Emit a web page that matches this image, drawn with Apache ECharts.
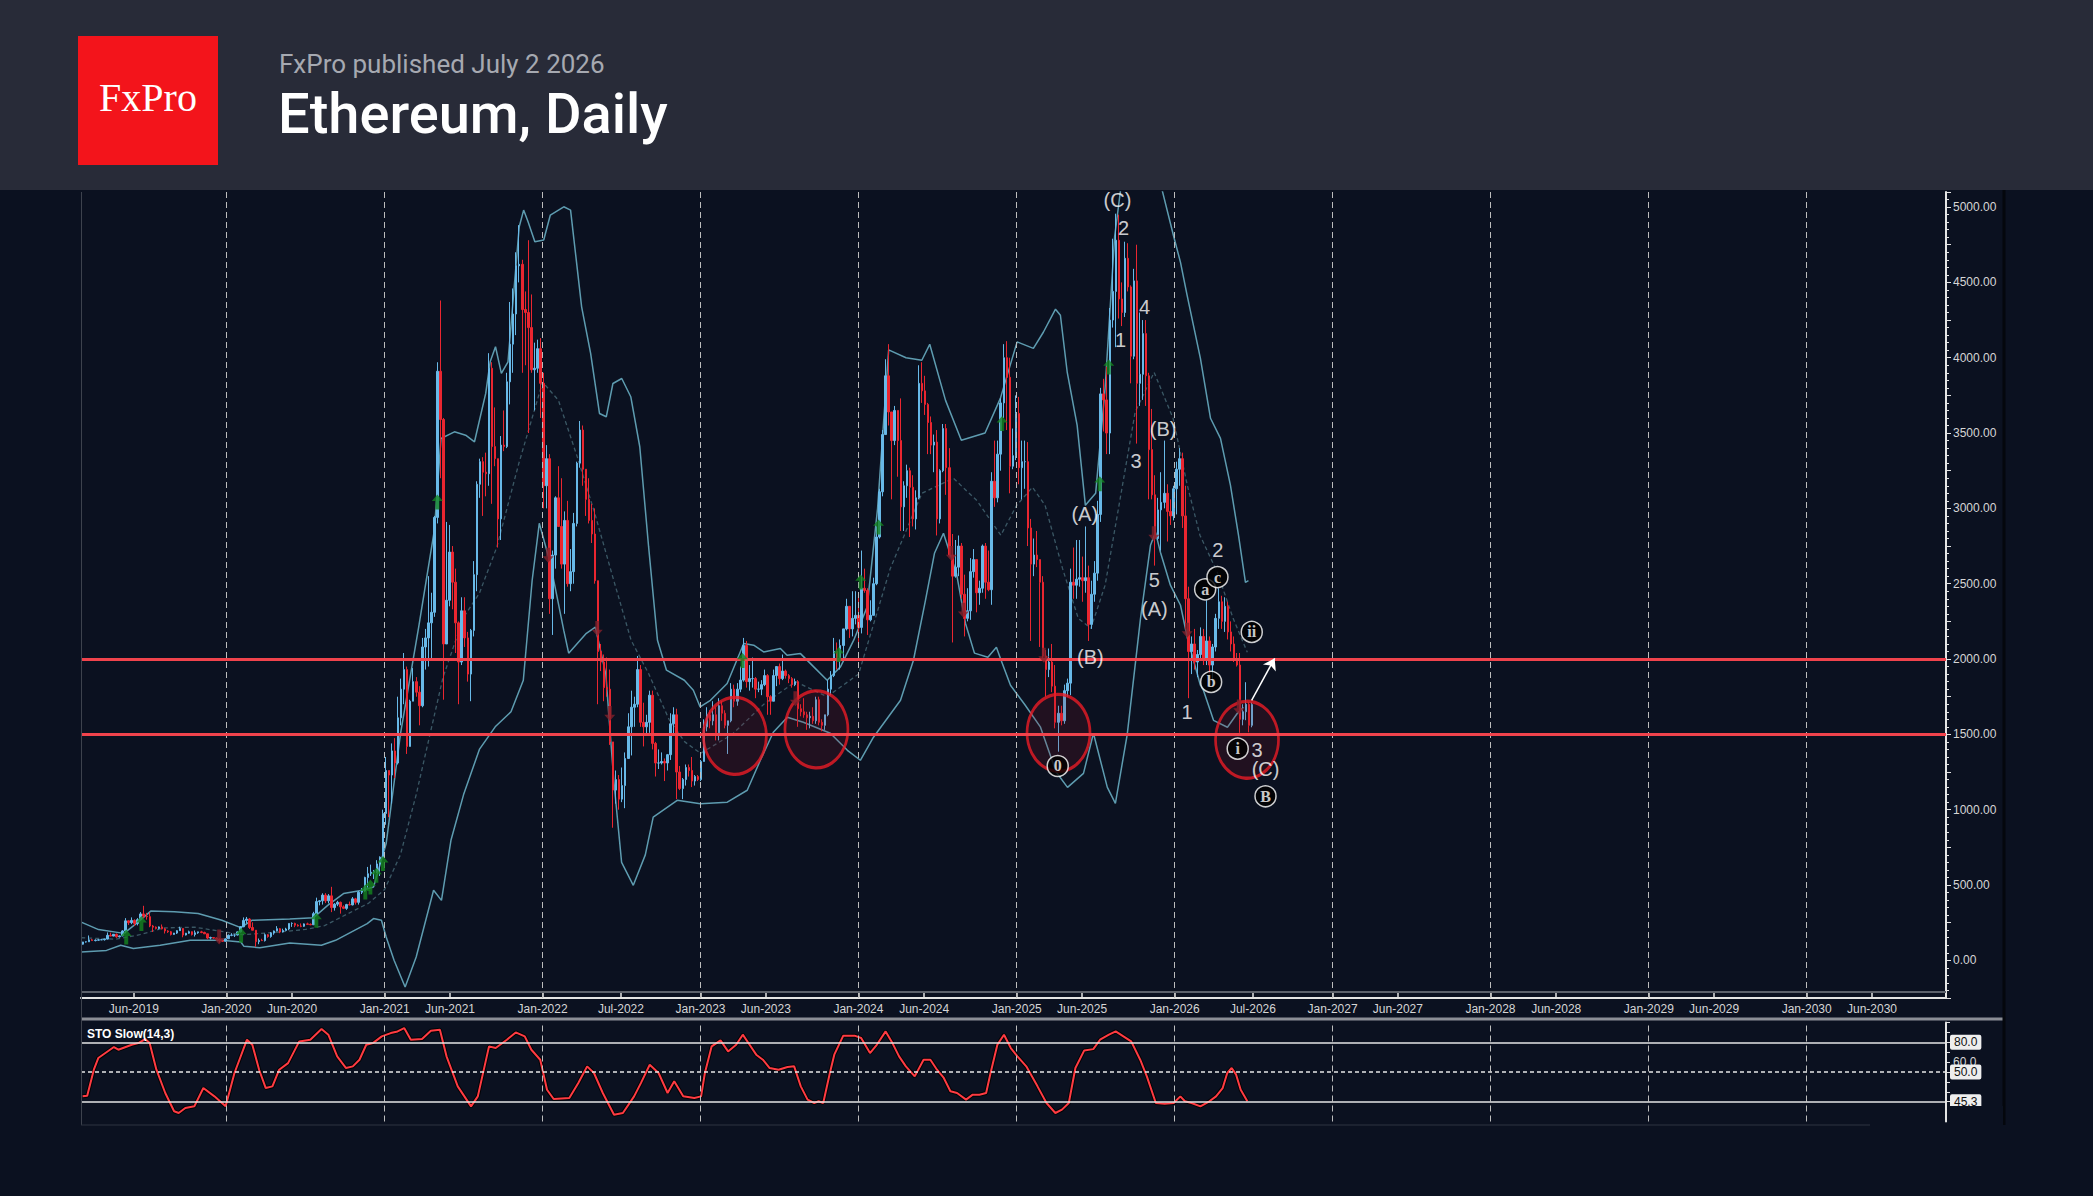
<!DOCTYPE html>
<html>
<head>
<meta charset="utf-8">
<title>Ethereum, Daily</title>
<script src="https://cdn.jsdelivr.net/npm/echarts@6/dist/echarts.min.js"></script>
<style>
html,body{margin:0;padding:0;background:#0b1120;}
body{width:2093px;height:1196px;position:relative;overflow:hidden;}
#chart{position:absolute;left:0;top:0;width:2093px;height:1196px;}
#header{position:absolute;left:0;top:0;width:2093px;height:190px;background:#282b38;z-index:5;}
#logo{position:absolute;left:78px;top:36px;width:140px;height:129px;background:#f3141b;}
#logo span{position:absolute;left:0;width:140px;top:42px;line-height:40px;text-align:center;font-family:'Liberation Serif','DejaVu Serif',serif;font-size:40px;color:#fff;}
#pub{position:absolute;left:279px;top:51px;line-height:26px;font-family:Roboto,sans-serif;font-size:26px;color:#a6a9b1;white-space:nowrap;}
#title{position:absolute;left:278px;top:86px;line-height:56px;font-family:Roboto,sans-serif;font-size:56px;font-weight:500;color:#ffffff;white-space:nowrap;}
</style>
</head>
<body>
<div id="chart"></div>
<div id="header">
  <div id="logo"><span>FxPro</span></div>
  <div id="pub">FxPro published July 2 2026</div>
  <div id="title">Ethereum, Daily</div>
</div>
<script>
// ---------------- DATA ----------------
const weekStart = '2019-02-04';
const xMinDate = '2019-01-30';
const xMaxDate = '2030-11-19';
const lastPrice = 1697.78;
const supportLevels = [2000, 1500];
const gridYears = [2020,2021,2022,2023,2024,2025,2026,2027,2028,2029,2030];
const xLabels = ['Jun-2019','Jan-2020','Jun-2020','Jan-2021','Jun-2021','Jan-2022','Jul-2022','Jan-2023','Jun-2023','Jan-2024','Jun-2024','Jan-2025','Jun-2025','Jan-2026','Jul-2026','Jan-2027','Jun-2027','Jan-2028','Jun-2028','Jan-2029','Jun-2029','Jan-2030','Jun-2030'];

// weekly bars [open, high, low, close]
const ohlc2019 = [
[107,123,104,122],[122,126,118,123],[123,165,122,136],[136,142,131,131],
[131,139,126,134],[134,141,130,136],[136,143,134,137],[137,143,131,141],
[141,185,139,166],[166,184,160,161],[161,175,160,173],[173,178,150,156],
[156,165,152,162],[162,200,160,195],[195,280,180,262],[262,265,235,250],
[250,285,240,265],[265,272,228,245],[245,280,232,270],[270,320,265,308],
[308,362,280,293],[293,315,270,290],[290,318,220,228],[228,235,188,220],
[220,225,205,212],[212,225,205,222],[222,238,205,209],[209,215,178,195],
[195,200,182,190],[190,195,165,172],[172,182,170,181],[181,200,175,197],
[197,223,195,212],[212,212,153,168],[168,182,165,180],[180,197,176,190],
[190,192,165,171],[171,198,158,183],[183,190,176,189],[189,196,180,185],
[185,190,175,176],[176,177,140,148],[148,157,139,151],[151,152,143,148],
[148,150,138,141],[141,146,117,130],[130,135,124,127],[127,145,126,143]
];
const ohlc2020 = [
[143,172,142,166],[166,180,160,168],[168,172,155,168],[168,190,165,189],
[189,228,185,223],[223,285,220,265],[265,288,245,274],[274,280,208,218],
[218,252,199,200],[200,201,90,124],[124,145,107,132],[132,143,128,131],
[131,178,125,170],[170,175,150,158],[158,187,150,181],[181,198,170,195],
[195,227,192,210],[210,215,180,188],[188,210,185,198],[198,216,198,208],
[208,245,200,245],[245,252,222,245],[245,250,220,233],[233,240,224,228],
[228,245,220,226],[226,245,222,242],[242,250,235,239],[239,245,233,236],
[236,322,235,310],[310,416,305,390],[390,400,365,395],[395,445,370,433],
[433,446,380,395],[395,440,378,428],[428,488,320,350],[350,380,330,373],
[373,395,360,385],[385,390,310,355],[355,365,340,345],[345,375,335,370],
[370,390,365,368],[368,420,365,408],[408,415,370,385],[385,460,370,452],
[452,480,440,460],[460,555,455,550],[550,620,480,575],[575,635,560,585],
[585,600,540,590],[590,665,580,640],[640,690,560,685],[685,1000,680,975]
];
const ohlc2021 = [
[975,1350,900,1260],[1260,1260,950,1230],[1230,1440,1040,1390],[1390,1475,1210,1310],
[1310,1750,1300,1610],[1610,1870,1560,1800],[1800,2040,1700,1930],[1930,1950,1370,1420],
[1420,1730,1420,1720],[1720,1940,1720,1850],[1850,1880,1750,1780],[1780,1820,1560,1690],
[1690,2140,1680,2080],[2080,2200,1930,2140],[2140,2550,1950,2240],[2240,2440,2000,2310],
[2310,2950,2280,2940],[2940,3970,2900,3910],[3910,4380,3200,3590],[3590,3600,1730,2100],
[2100,2910,2100,2390],[2390,2890,2350,2710],[2710,2750,2330,2510],[2510,2600,2040,2240],
[2240,2250,1700,1980],[1980,2410,1960,2320],[2320,2410,2080,2140],[2140,2180,1850,1900],
[1900,2200,1720,2190],[2190,2650,2150,2560],[2560,3180,2450,3160],[3160,3330,3070,3310],
[3310,3340,2950,3240],[3240,3370,3080,3230],[3230,4030,3150,3930],[3930,3970,3030,3410],
[3410,3670,3280,3330],[3330,3330,2740,2930],[2930,3480,2790,3420],[3420,3650,3380,3410],
[3410,3900,3400,3840],[3840,4370,3690,4090],[4090,4460,3900,4290],[4290,4700,4150,4610],
[4610,4880,4500,4620],[4620,4650,3900,4320],[4320,4440,3950,4300],[4300,4780,3500,4200],
[4200,4420,3900,3920],[3920,4100,3650,3930],[3930,4120,3900,4060],[4060,4130,3600,3830]
];
const ohlc2022 = [
[3830,3900,3000,3150],[3150,3420,3000,3330],[3330,3360,2300,2400],[2400,2720,2160,2690],
[2690,3080,2600,3070],[3070,3280,2880,2880],[2880,3200,2600,2630],[2630,2980,2300,2920],
[2920,3050,2480,2500],[2500,2730,2450,2580],[2580,2970,2500,2900],[2900,3310,2880,3300],
[3300,3580,3270,3520],[3520,3550,3150,3260],[3260,3260,2950,3060],[3060,3200,2900,2920],
[2920,3030,2770,2830],[2830,3000,2500,2520],[2520,2520,1700,2050],[2050,2100,1920,1980],
[1980,2030,1720,1810],[1810,2010,1750,1800],[1800,1930,1430,1450],[1450,1450,880,1130],
[1130,1260,1040,1200],[1200,1230,1000,1070],[1070,1280,1050,1160],[1160,1380,1010,1340],
[1340,1640,1340,1550],[1550,1790,1360,1680],[1680,1750,1550,1700],[1700,2020,1680,1930],
[1930,1960,1550,1580],[1580,1710,1420,1550],[1550,1630,1490,1580],[1580,1790,1510,1760],
[1760,1790,1400,1440],[1440,1450,1220,1310],[1310,1400,1270,1310],[1310,1380,1300,1320],
[1320,1340,1190,1310],[1310,1370,1260,1365],[1365,1640,1330,1570],[1570,1680,1500,1630],
[1630,1670,1070,1250],[1250,1290,1130,1140],[1140,1210,1070,1200],[1200,1300,1160,1280],
[1280,1300,1220,1260],[1260,1350,1150,1190],[1190,1230,1160,1220],[1220,1230,1190,1200]
];
const ohlc2023 = [
[1200,1330,1190,1320],[1320,1600,1320,1550],[1550,1680,1520,1630],[1630,1660,1540,1590],
[1590,1720,1560,1630],[1630,1680,1460,1510],[1510,1740,1460,1690],[1690,1720,1590,1640],
[1640,1660,1540,1560],[1560,1590,1370,1590],[1590,1840,1580,1800],[1800,1830,1680,1720],
[1720,1840,1690,1800],[1800,1950,1780,1860],[1860,2140,1850,2090],[2090,2120,1810,1850],
[1850,1960,1790,1870],[1870,2010,1810,1870],[1870,1880,1740,1800],[1800,1850,1780,1800],
[1800,1860,1760,1830],[1830,1930,1820,1890],[1890,1900,1630,1750],[1750,1760,1630,1720],
[1720,1930,1720,1890],[1890,1950,1820,1950],[1950,1970,1830,1870],[1870,2030,1860,1920],
[1920,1930,1870,1890],[1890,1900,1840,1870],[1870,1880,1810,1830],[1830,1870,1820,1850],
[1850,1860,1550,1670],[1670,1700,1620,1650],[1650,1740,1610,1630],[1630,1650,1530,1610],
[1610,1650,1540,1620],[1620,1680,1570,1590],[1590,1750,1570,1730],[1730,1750,1560,1580],
[1580,1600,1520,1560],[1560,1630,1530,1630],[1630,1860,1620,1800],[1800,1920,1760,1890],
[1890,2140,1880,2050],[2050,2110,1930,2010],[2010,2130,1930,2090],[2090,2200,2000,2200],
[2200,2400,2190,2350],[2350,2350,2140,2200],[2200,2450,2150,2270],[2270,2450,2230,2290]
];
const ohlc2024 = [
[2290,2420,2100,2210],[2210,2720,2170,2470],[2470,2600,2440,2455],[2455,2470,2160,2260],
[2260,2390,2250,2290],[2290,2540,2290,2500],[2500,2880,2490,2810],[2810,3130,2800,3110],
[3110,3520,3080,3490],[3490,3990,3490,3880],[3880,4090,3550,3640],[3640,3640,3060,3450],
[3450,3680,3420,3650],[3650,3650,3210,3450],[3450,3730,2850,3010],[3010,3180,2850,3150],
[3150,3290,3070,3250],[3250,3270,2810,3140],[3140,3220,2880,2930],[2930,3120,2860,3070],
[3070,3950,3060,3830],[3830,3970,3700,3780],[3780,3880,3620,3690],[3690,3700,3360,3570],
[3570,3610,3360,3420],[3420,3490,3240,3440],[3440,3520,2820,2930],[2930,3260,2900,3250],
[3250,3560,3240,3530],[3530,3560,3090,3270],[3270,3400,2680,2690],[2690,2830,2110,2550],
[2550,2790,2540,2610],[2610,2820,2550,2750],[2750,2770,2400,2430],[2430,2560,2150,2270],
[2270,2470,2250,2320],[2320,2670,2260,2580],[2580,2730,2540,2660],[2660,2660,2310,2440],
[2440,2520,2360,2470],[2470,2760,2440,2750],[2750,2770,2400,2510],[2510,2720,2450,2460],
[2460,3240,2360,3180],[3180,3450,3010,3070],[3070,3450,3040,3360],[3360,3730,3250,3700],
[3700,4090,3600,4000],[4000,4110,3520,3870],[3870,4000,3100,3280],[3280,3530,3260,3350],
[3350,3750,3320,3630]
];
const ohlc2025 = [
[3630,3740,3160,3270],[3270,3450,3060,3310],[3310,3450,3130,3310],[3310,3440,2750,2870],
[2870,2930,2120,2630],[2630,2800,2550,2690],[2690,2850,2610,2660],[2660,2660,2080,2510],
[2510,2550,2000,2020],[2020,2060,1750,1930],[1930,2070,1880,1980],[1980,2100,1780,1820],
[1820,1960,1540,1580],[1580,1690,1385,1640],[1640,1690,1560,1590],[1590,1830,1570,1790],
[1790,1870,1750,1840],[1840,2600,1760,2510],[2510,2740,2400,2490],[2490,2790,2400,2530],
[2530,2790,2480,2540],[2540,2680,2380,2520],[2520,2880,2440,2540],[2540,2620,2120,2230],
[2230,2520,2200,2430],[2430,2650,2380,2570],[2570,3050,2520,2960],[2960,3800,2910,3760],
[3760,3860,3510,3720],[3720,3940,3360,3500],[3500,4330,3360,4250],[4250,4790,4200,4440],
[4440,4956,4070,4780],[4780,4950,4260,4390],[4390,4500,4210,4300],[4300,4770,4270,4660],
[4660,4760,4440,4470],[4470,4480,3830,4010],[4010,4590,3990,4510],[4510,4750,3430,3830],
[3830,4300,3680,3890],[3890,4250,3720,4160],[4160,4250,3680,3880],[3880,3900,3060,3390],
[3390,3660,3060,3090],[3090,3220,2620,2800],[2800,3070,2790,2990],[2990,3240,2720,3040],
[3040,3450,3000,3100],[3100,3160,2780,2980],[2980,3060,2890,2950],[2950,3150,2920,3130]
];
const ohlc2026 = [
[3130,3310,2960,3260],[3260,3400,3150,3330],[3330,3370,2870,2950],[2950,3150,2200,2400],
[2400,2480,1740,2050],[2050,2150,1900,2100],[2100,2200,1930,1980],[1980,2060,1880,2030],
[2030,2210,1990,2150],[2150,2200,1960,2000],[2000,2390,1960,2120],[2120,2150,1900,1960],
[1960,2100,1850,2080],[2080,2300,2050,2270],[2270,2470,2200,2380],[2380,2420,2200,2250],
[2250,2410,2180,2350],[2350,2380,2130,2180],[2180,2250,2050,2100],[2100,2150,1980,2000],
[2000,2040,1950,1960],[1960,2040,1510,1600],[1600,1700,1560,1650],[1650,1846,1594,1700],
[1700,1713,1514,1560],[1560,1713,1547,1697.78]
];

// Bollinger bands: [decimal year, price]
const bbUpper = [
[2019.08,254],[2019.19,204],[2019.35,179],[2019.43,245],[2019.52,327],[2019.67,322],[2019.82,311],[2019.97,266],[2020.09,217],[2020.16,266],[2020.40,274],[2020.55,283],[2020.64,365],[2020.74,443],[2020.86,465],[2020.93,487],[2021.01,775],[2021.10,1500],[2021.216,2213],[2021.315,2855],[2021.357,3464],[2021.442,3508],[2021.513,3486],[2021.569,3442],[2021.640,3763],[2021.668,3973],[2021.702,4073],[2021.739,3896],[2021.781,3973],[2021.852,4869],[2021.880,4980],[2021.908,4903],[2021.951,4770],[2022.007,4781],[2022.049,4947],[2022.134,5002],[2022.177,4980],[2022.247,4338],[2022.304,4029],[2022.360,3630],[2022.403,3608],[2022.445,3829],[2022.501,3862],[2022.558,3741],[2022.615,3409],[2022.671,2744],[2022.727,2125],[2022.784,1926],[2022.897,1859],[2022.954,1793],[2022.997,1682],[2023.062,1726],[2023.168,1837],[2023.273,2103],[2023.336,2092],[2023.399,2047],[2023.505,2070],[2023.547,2025],[2023.632,2036],[2023.716,1948],[2023.801,1859],[2023.885,1948],[2023.969,2125],[2024.054,2346],[2024.12,3000],[2024.19,4052],[2024.30,4000],[2024.40,3983],[2024.45,4089],[2024.55,3717],[2024.65,3452],[2024.80,3500],[2024.897,3730],[2025.003,4105],[2025.106,4062],[2025.169,4169],[2025.246,4322],[2025.277,4282],[2025.320,3905],[2025.383,3551],[2025.435,3020],[2025.50,3100],[2025.56,3800],[2025.62,4800],[2025.68,5300],[2025.80,5300],[2025.90,5200],[2025.992,4813],[2026.037,4633],[2026.079,4414],[2026.119,4215],[2026.163,3996],[2026.227,3598],[2026.290,3465],[2026.353,3154],[2026.404,2822],[2026.448,2509],[2026.467,2520]
];
const bbMiddle = [
[2019.08,150],[2019.30,140],[2019.45,170],[2019.60,215],[2019.80,220],[2019.95,195],[2020.10,170],[2020.30,185],[2020.50,205],[2020.62,230],[2020.75,300],[2020.90,380],[2021.00,470],[2021.10,700],[2021.20,1100],[2021.37,1879],[2021.50,2277],[2021.60,2437],[2021.71,2742],[2021.85,3300],[2022.00,3838],[2022.10,3718],[2022.22,3340],[2022.33,2968],[2022.45,2523],[2022.56,2125],[2022.67,1905],[2022.80,1600],[2022.90,1450],[2023.00,1374],[2023.20,1500],[2023.40,1700],[2023.60,1850],[2023.80,1750],[2024.00,1900],[2024.20,2600],[2024.40,3100],[2024.60,3200],[2024.75,3050],[2024.90,2822],[2025.00,3020],[2025.10,3140],[2025.18,3020],[2025.29,2603],[2025.39,2270],[2025.47,2204],[2025.56,2490],[2025.67,3154],[2025.75,3639],[2025.87,3903],[2025.99,3598],[2026.08,3154],[2026.16,2822],[2026.27,2576],[2026.37,2270],[2026.46,2045]
];
const bbLower = [
[2019.08,55],[2019.24,66],[2019.33,100],[2019.41,78],[2019.58,100],[2019.77,133],[2019.97,133],[2020.09,122],[2020.11,93],[2020.21,84],[2020.40,115],[2020.60,100],[2020.69,133],[2020.89,244],[2020.93,277],[2020.98,266],[2021.01,155],[2021.06,0],[2021.13,-177],[2021.20,22],[2021.31,465],[2021.36,398],[2021.42,797],[2021.50,1100],[2021.60,1400],[2021.70,1550],[2021.80,1650],[2021.878,1859],[2021.934,2523],[2021.979,2901],[2022.049,2635],[2022.134,2190],[2022.165,2039],[2022.277,2171],[2022.334,2211],[2022.40,1900],[2022.45,1200],[2022.50,650],[2022.574,498],[2022.65,700],[2022.700,950],[2022.852,1062],[2022.998,1040],[2023.169,1050],[2023.295,1129],[2023.378,1328],[2023.460,1514],[2023.549,1614],[2023.65,1580],[2023.821,1507],[2023.929,1394],[2024.011,1328],[2024.094,1481],[2024.265,1726],[2024.347,1992],[2024.423,2390],[2024.480,2702],[2024.537,2835],[2024.619,2570],[2024.676,2238],[2024.733,2039],[2024.818,2012],[2024.872,2078],[2024.897,2005],[2024.961,1826],[2025.05,1700],[2025.15,1550],[2025.25,1250],[2025.322,1148],[2025.423,1241],[2025.486,1507],[2025.574,1148],[2025.625,1042],[2025.70,1500],[2025.784,2270],[2025.847,2755],[2025.879,2841],[2025.910,2709],[2025.973,2490],[2026.037,2357],[2026.081,2138],[2026.163,1826],[2026.182,1792],[2026.246,1593],[2026.334,1547],[2026.397,1640],[2026.435,1680]
];

// Stochastic slow (14,3): decimal year and value
const stochT = [2019.089,2019.118,2019.160,2019.188,2019.287,2019.315,2019.400,2019.442,2019.485,2019.513,2019.556,2019.612,2019.668,2019.697,2019.739,2019.796,2019.853,2019.923,2019.994,2020.050,2020.129,2020.163,2020.206,2020.248,2020.290,2020.333,2020.389,2020.460,2020.530,2020.601,2020.644,2020.700,2020.756,2020.799,2020.841,2020.884,2020.926,2020.982,2021.039,2021.082,2021.124,2021.166,2021.237,2021.293,2021.350,2021.392,2021.463,2021.547,2021.590,2021.661,2021.703,2021.774,2021.830,2021.887,2021.929,2021.985,2022.028,2022.070,2022.169,2022.226,2022.282,2022.325,2022.381,2022.452,2022.508,2022.579,2022.622,2022.678,2022.734,2022.791,2022.833,2022.890,2022.960,2023.003,2023.027,2023.070,2023.126,2023.174,2023.225,2023.267,2023.310,2023.352,2023.394,2023.437,2023.493,2023.550,2023.592,2023.634,2023.677,2023.719,2023.747,2023.776,2023.818,2023.846,2023.903,2023.974,2024.016,2024.072,2024.115,2024.171,2024.214,2024.256,2024.299,2024.355,2024.411,2024.454,2024.496,2024.539,2024.581,2024.623,2024.680,2024.722,2024.765,2024.807,2024.835,2024.878,2024.920,2024.963,2025.005,2025.061,2025.132,2025.189,2025.245,2025.287,2025.330,2025.372,2025.428,2025.485,2025.528,2025.584,2025.627,2025.683,2025.725,2025.782,2025.824,2025.881,2025.937,2025.994,2026.036,2026.065,2026.107,2026.163,2026.220,2026.262,2026.304,2026.333,2026.361,2026.389,2026.418,2026.460];
const stochV = [25.4,26.1,52.3,64.1,75.2,72.5,77.5,79.2,83.3,79.2,52.3,28.8,10.3,8.6,13.7,15.3,33.8,25.4,15.3,49,82.6,77.5,52.3,33.8,35.5,52.3,59,80.9,82.6,93.4,87.7,65.8,54,55.7,62.4,77.5,79.2,86,89.3,91,94.4,82.6,83.3,91.7,92.7,65.8,35.5,15.3,25.4,75.9,74.2,82.6,90,86,72.5,62.4,32.1,22.7,23.7,38.8,55.7,49,28.8,6.9,8.6,25.4,38.8,57.3,49,28.8,40.6,25.4,23.7,25.4,49,75.9,81.9,70.8,77.5,87.7,77.5,67.5,62.4,54,52.3,55,55.7,35.5,22.1,18.7,20.4,18.7,49,67.5,86.7,86.7,84.3,69.1,77.5,91,79.2,65.8,55.7,45.6,62.4,62.4,52.3,44,30.5,28.8,22.1,27.1,27.1,28.8,49,77.5,87.7,74.2,65.8,55.7,35.5,18.7,8.6,12,18.7,54,71.8,73.1,82.6,87.7,91,85.3,80.9,62.4,45.6,18.7,18,18.7,25.4,20.4,18.7,15.3,20.4,25.4,33.8,49,54,47.3,32.1,20.4];
const stochLevels = [80, 50, 20];
const stochLevelLabels = ['80.0', '50.0', '45.3'];

// buy / sell signal arrows: [decimal year, price]
const buySignals = [[2019.365,155],[2019.461,244],[2020.092,166],[2020.568,266],[2020.878,453],[2020.910,487],[2020.948,564],[2020.990,642],[2021.334,3042],[2023.265,1991],[2023.874,2030],[2024.013,2512],[2024.126,2877],[2024.908,3563],[2025.526,3164],[2025.583,3939]];
const sellSignals = [[2019.953,155],[2022.035,2689],[2022.346,2202],[2022.425,1638],[2023.600,1737],[2024.587,2700],[2024.663,2323],[2025.172,2025],[2025.868,2832],[2026.079,2191],[2026.406,1681]];

// highlighted zones (ellipses) centres: [decimal year, price]
const zones = [[2023.217,1490],[2023.733,1533],[2025.265,1510],[2026.458,1464]];

// Elliott wave labels: [text, decimal year, price]
const waveLabels = [
['(C)',2025.638,5045],['2',2025.676,4859],['1',2025.657,4115],['4',2025.809,4337],['3',2025.756,3312],
['(B)',2025.927,3529],['5',2025.872,2522],['(A)',2025.872,2330],['(A)',2025.431,2965],['(B)',2025.467,2013],
['2',2026.273,2722],['1',2026.079,1648],['3',2026.522,1394],['(C)',2026.575,1273]
];
const circledLabels = [
['a',2026.193,2463],['c',2026.271,2544],['ii',2026.488,2180],['b',2026.231,1848],['i',2026.399,1405],['B',2026.575,1089],['0',2025.260,1290]
];
const projArrow = [[2026.487,1726],[2026.633,2005]];

// ---------------- HELPERS ----------------
const YEAR_MS = 365.25 * 86400000;
const toYr = ms => 1970 + ms / YEAR_MS;
const dateYr = s => toYr(Date.parse(s + 'T00:00:00Z'));
const MONTHS = {Jan:0,Feb:1,Mar:2,Apr:3,May:4,Jun:5,Jul:6,Aug:7,Sep:8,Oct:9,Nov:10,Dec:11};
const labelYr = l => { const p = l.split('-'); return toYr(Date.UTC(+p[1], MONTHS[p[0]], 1)); };

const xMin = dateYr(xMinDate), xMax = dateYr(xMaxDate);
const xLabelVals = xLabels.map(labelYr);
const labelFor = v => { let best = 0, d = 1e9; xLabelVals.forEach((x, i) => { if (Math.abs(x - v) < d) { d = Math.abs(x - v); best = i; } }); return xLabels[best]; };

const ohlcAll = [].concat(ohlc2019, ohlc2020, ohlc2021, ohlc2022, ohlc2023, ohlc2024, ohlc2025, ohlc2026);
const t0 = Date.parse(weekStart + 'T00:00:00Z');
const candleData = ohlcAll.map((r, i) => [toYr(t0 + i * 7 * 86400000), r[0], r[3], r[2], r[1]]);
const stochData = stochT.map((t, i) => [t, stochV[i]]);
const yearLines = gridYears.map(y => ({xAxis: toYr(Date.UTC(y, 0, 1))}));

const FONT = 'Liberation Sans';
const AXIS_COL = '#e4e4e4';
const LABEL_COL = '#d6d6d6';
const BAND_COL = '#5e9cb0';
const UP_COL = '#68b9e8';
const DOWN_COL = '#ea2630';

const upArrow = 'path://M5 0 L10 6 L6.8 6 L6.8 14 L3.2 14 L3.2 6 L0 6 Z';
const boxLabel = {
  show: true, position: 'end', distance: 4, color: '#111', backgroundColor: '#eeeeee',
  padding: [2, 4, 1, 4], borderRadius: 2, fontSize: 12, fontFamily: FONT
};

const chart = echarts.init(document.getElementById('chart'), null, {renderer: 'svg', width: 2093, height: 1196});
const option = {
  animation: false,
  backgroundColor: '#0b1120',
  grid: [
    {left: 81, top: 192, width: 1865, height: 806},
    {left: 81, top: 1022.5, width: 1865, height: 99}
  ],
  xAxis: [
    {type: 'value', gridIndex: 0, min: xMin, max: xMax,
     axisLine: {show: true, onZero: false, lineStyle: {color: AXIS_COL, width: 2}},
     axisTick: {show: true, inside: true, length: 6, customValues: xLabelVals, lineStyle: {color: AXIS_COL, width: 1.5}},
     axisLabel: {show: true, customValues: xLabelVals, formatter: v => labelFor(v), color: LABEL_COL, fontSize: 12, fontFamily: FONT, margin: 5},
     splitLine: {show: false}},
    {type: 'value', gridIndex: 1, min: xMin, max: xMax, show: false, splitLine: {show: false}}
  ],
  yAxis: [
    {type: 'value', gridIndex: 0, position: 'right', min: -250, max: 5100, interval: 250,
     axisLine: {show: true, onZero: false, lineStyle: {color: AXIS_COL, width: 2}},
     axisTick: {show: true, length: 5, lineStyle: {color: AXIS_COL}},
     minorTick: {show: true, splitNumber: 5, length: 3, lineStyle: {color: AXIS_COL}},
     axisLabel: {formatter: v => (v >= 0 && v % 500 === 0) ? v.toFixed(2) : '', color: LABEL_COL, fontSize: 12, fontFamily: FONT, margin: 7},
     splitLine: {show: false}},
    {type: 'value', gridIndex: 1, position: 'right', min: 0, max: 100, interval: 10,
     axisLine: {show: true, onZero: false, lineStyle: {color: AXIS_COL, width: 2}},
     axisTick: {show: true, length: 4, lineStyle: {color: AXIS_COL}},
     axisLabel: {formatter: v => v === 60 ? '60.0' : '', color: LABEL_COL, fontSize: 12, fontFamily: FONT, margin: 7},
     splitLine: {show: false}}
  ],
  graphic: [
    {type: 'line', z: 10, shape: {x1: 81, y1: 992, x2: 1946, y2: 992}, style: {stroke: '#5c616b', lineWidth: 2}},
    {type: 'rect', z: 10, shape: {x: 81, y: 1017.5, width: 1924, height: 3}, style: {fill: '#8b8e95'}},
    {type: 'line', z: 10, shape: {x1: 81.5, y1: 192, x2: 81.5, y2: 1125}, style: {stroke: '#3d424d', lineWidth: 1}},
    {type: 'line', z: 10, shape: {x1: 81, y1: 1125, x2: 1870, y2: 1125}, style: {stroke: '#2f3440', lineWidth: 1}},
    {type: 'line', z: 10, shape: {x1: 2004, y1: 190, x2: 2004, y2: 1125}, style: {stroke: '#04070d', lineWidth: 3}},
    {type: 'text', z: 10, left: 87, top: 1028, style: {text: 'STO Slow(14,3)', fill: '#ffffff', font: 'bold 12px "Liberation Sans"'}},
    {type: 'rect', z: 100, shape: {x: 1947, y: 1106, width: 56, height: 25}, style: {fill: '#0b1120'}}
  ],
  series: [
    {type: 'scatter', xAxisIndex: 0, yAxisIndex: 0, data: [], z: 1, silent: true,
     markLine: {silent: true, symbol: 'none', label: {show: false}, lineStyle: {color: '#bdbdbd', type: [6, 4], width: 1}, data: yearLines}},
    {type: 'scatter', xAxisIndex: 1, yAxisIndex: 1, data: [], z: 1, silent: true,
     markLine: {silent: true, symbol: 'none', label: {show: false}, lineStyle: {color: '#bdbdbd', type: [6, 4], width: 1}, data: yearLines}},
    {type: 'line', name: 'BB upper', xAxisIndex: 0, yAxisIndex: 0, data: bbUpper, showSymbol: false, z: 2, clip: true,
     lineStyle: {color: BAND_COL, width: 1.5}},
    {type: 'line', name: 'BB middle', xAxisIndex: 0, yAxisIndex: 0, data: bbMiddle, showSymbol: false, z: 2, clip: true,
     lineStyle: {color: '#3b5865', width: 1.3, type: [4, 3]}},
    {type: 'line', name: 'BB lower', xAxisIndex: 0, yAxisIndex: 0, data: bbLower, showSymbol: false, z: 2, clip: true,
     lineStyle: {color: BAND_COL, width: 1.5}},
    {type: 'candlestick', name: 'ETH', xAxisIndex: 0, yAxisIndex: 0, data: candleData, barWidth: 2, z: 3, clip: true,
     itemStyle: {color: UP_COL, color0: DOWN_COL, borderColor: UP_COL, borderColor0: DOWN_COL, borderWidth: 1},
     markLine: {silent: true, symbol: 'none', lineStyle: {opacity: 0},
       label: Object.assign({}, boxLabel, {formatter: lastPrice.toFixed(2)}),
       data: [{yAxis: lastPrice}]}},
    {type: 'scatter', name: 'zones', xAxisIndex: 0, yAxisIndex: 0, data: zones, z: 4, silent: true,
     symbol: 'circle', symbolSize: [63, 77],
     itemStyle: {color: 'rgba(150,20,35,0.20)', borderColor: '#ea1c26', borderWidth: 3}},
    {type: 'scatter', xAxisIndex: 0, yAxisIndex: 0, data: [], z: 5, silent: true,
     markLine: {silent: true, symbol: 'none', label: {show: false}, lineStyle: {color: '#f0434c', width: 3, type: 'solid'},
       data: supportLevels.map(v => ({yAxis: v}))}},
    {type: 'scatter', name: 'buy', xAxisIndex: 0, yAxisIndex: 0, data: buySignals, z: 6, silent: true,
     symbol: upArrow, symbolSize: [11, 15], itemStyle: {color: '#14851f'}},
    {type: 'scatter', name: 'sell', xAxisIndex: 0, yAxisIndex: 0, data: sellSignals, z: 6, silent: true,
     symbol: upArrow, symbolRotate: 180, symbolSize: [11, 15], itemStyle: {color: '#82202a'}},
    {type: 'scatter', name: 'waves', xAxisIndex: 0, yAxisIndex: 0, z: 7, silent: true,
     data: waveLabels.map(w => ({name: w[0], value: [w[1], w[2]]})),
     symbol: 'circle', symbolSize: 1, itemStyle: {color: 'rgba(0,0,0,0)'},
     label: {show: true, position: 'inside', formatter: p => p.name, color: '#ffffff', fontSize: 20, fontFamily: FONT}},
    {type: 'scatter', name: 'circled', xAxisIndex: 0, yAxisIndex: 0, z: 8, silent: true,
     data: circledLabels.map(w => ({name: w[0], value: [w[1], w[2]]})),
     symbol: 'circle', symbolSize: 21, itemStyle: {color: '#000000', borderColor: '#ffffff', borderWidth: 1.5},
     label: {show: true, position: 'inside', formatter: p => p.name, color: '#ffffff', fontSize: 16, fontWeight: 'bold', fontFamily: 'Liberation Serif'},
     markLine: {silent: true, symbol: ['none', 'arrow'], symbolSize: 11, label: {show: false},
       lineStyle: {color: '#ffffff', width: 1.5, type: 'solid'},
       data: [[{coord: projArrow[0]}, {coord: projArrow[1]}]]}},
    {type: 'line', name: 'sto shadow', xAxisIndex: 1, yAxisIndex: 1, data: stochData, showSymbol: false, z: 3, silent: true,
     lineStyle: {color: '#000000', width: 4, opacity: 0.85}},
    {type: 'line', name: 'STO Slow', xAxisIndex: 1, yAxisIndex: 1, data: stochData, showSymbol: false, z: 4, silent: true,
     lineStyle: {color: '#ff3b42', width: 2},
     markLine: {silent: true, symbol: 'none',
       data: stochLevels.map((v, i) => ({yAxis: v,
         lineStyle: {color: '#e6e6e6', width: 1.5, type: v === 50 ? [4, 3] : 'solid'},
         label: Object.assign({}, boxLabel, {formatter: stochLevelLabels[i]})}))}}
  ]
};
chart.setOption(option);
</script>
</body>
</html>
